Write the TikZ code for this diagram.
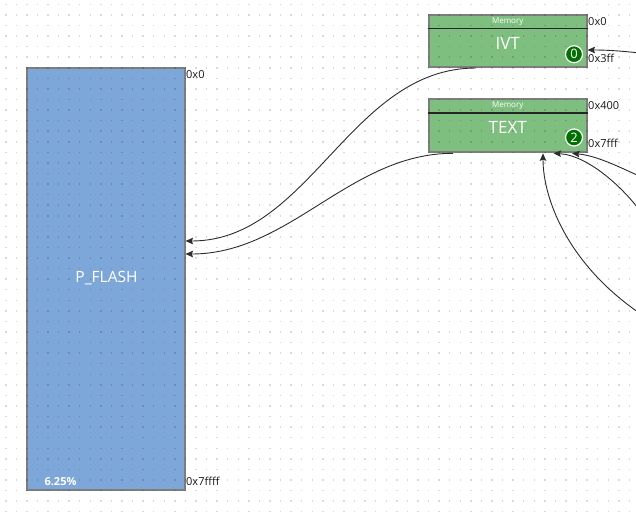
\documentclass[tikz,border=0pt]{standalone}
\usepackage{fontspec}
\setmainfont{Open Sans}
\usetikzlibrary{arrows.meta}
\definecolor{flashblue}{RGB}{126,167,217}
\definecolor{memgreen}{RGB}{126,190,126}
\definecolor{boxborder}{RGB}{125,125,125}
\definecolor{badgegreen}{RGB}{0,112,0}
\definecolor{wire}{RGB}{45,45,45}
\begin{document}
\begin{tikzpicture}[x=1pt,y=-1pt,
  region/.style={draw=boxborder, line width=2pt, fill=flashblue, inner sep=0pt},
  membox/.style={draw=boxborder, line width=2pt, fill=memgreen, inner sep=0pt},
  divider/.style={draw=black!85, line width=1.6pt},
  addr/.style={anchor=west, font=\fontsize{11}{12}\selectfont, text=black!90, inner sep=0pt},
  bigname/.style={font=\fontsize{17}{18}\selectfont, text=white, inner sep=0pt},
  hdr/.style={font=\fontsize{8}{9}\selectfont, text=white, inner sep=0pt},
  badge/.style={circle, fill=badgegreen, draw=white, line width=1.2pt, minimum size=17pt, inner sep=0pt, text=white, font=\fontsize{13}{13}\selectfont},
  wirec/.style={draw=wire, line width=0.9pt, -{Stealth[length=7.5pt,width=6.5pt,inset=1.2pt]}},
  griddot/.style={fill=black, opacity=0.15},
]
\fill[white] (0,0) rectangle (636,515);
\useasboundingbox (0,0) rectangle (636,515);
\clip (0,0) rectangle (636,515);

% boxes
\node[region, minimum width=158pt, minimum height=422pt] (flash) at (105.5,278.5) {};
\node[membox, minimum width=158pt, minimum height=52pt] (ivt) at (507.5,41) {};
\node[membox, minimum width=158pt, minimum height=53pt] (textmem) at (507.5,125.8) {};
\draw[divider] ([yshift=-14.3pt]ivt.north west) -- ([yshift=-14.3pt]ivt.north east);
\draw[divider] ([yshift=-14.4pt]textmem.north west) -- ([yshift=-14.4pt]textmem.north east);

% grid of dots
\foreach \i in {0,...,60}{
  \foreach \j in {0,...,48}{
    \fill[griddot] (5.0+10.57*\i, 3.6+10.57*\j) rectangle +(1.5,1.5);
  }
}

% texts
\node[bigname, font=\fontsize{15.5}{18}\selectfont] (flashname) at (106.5,278.3) {P\_FLASH};
\node[inner sep=0pt, text=white, font=\bfseries\fontsize{11}{12}\selectfont] (flashpct) at (60.5,481.5) {6.25\%};
\node[addr] (flashlo) at (186,74.5) {0x0};
\node[addr] (flashhi) at (186,481.5) {0x7ffff};

\node[hdr] (ivthdr) at (507.7,21.7) {Memory};
\node[bigname] (ivtname) at (507.7,43.5) {IVT};
\node[badge] (ivtbadge) at (574,54.2) {0};
\node[addr] (ivtlo) at (588,21.5) {0x0};
\node[addr] (ivthi) at (588,58.3) {0x3ff};

\node[hdr] (texthdr) at (507.7,106) {Memory};
\node[bigname] (textname) at (507.7,127.7) {TEXT};
\node[badge] (textbadge) at (574,137.5) {2};
\node[addr] (textlo) at (588,106) {0x400};
\node[addr] (texthi) at (588,143.3) {0x7fff};

% off-canvas ends
\coordinate (offI) at (690,60);
\coordinate (offA) at (650,320);
\coordinate (offB) at (650,225);
\coordinate (offC) at (660,185);

% connectors
\draw[wirec] ([xshift=-31.5pt]ivt.south) .. controls +(-126,0) and +(124.5,0) .. ([yshift=37.5pt]flash.east);
\draw[wirec] ([xshift=-54.5pt]textmem.south) .. controls +(-103,0) and +(104.5,0) .. ([yshift=24.5pt]flash.east);
\draw[wirec] (offI) .. controls +(-45,-7) and +(30,0) .. ([yshift=-9pt]ivt.east);
\draw[wirec] (offA) .. controls +(-80,-50) and +(0,47) .. ([xshift=35.5pt]textmem.south);
\draw[wirec] (offB) .. controls +(-22,-35) and +(35,2) .. ([xshift=46pt]textmem.south);
\draw[wirec] (offC) .. controls +(-30,-12) and +(30,3) .. ([xshift=64.5pt]textmem.south);
\end{tikzpicture}
\end{document}
